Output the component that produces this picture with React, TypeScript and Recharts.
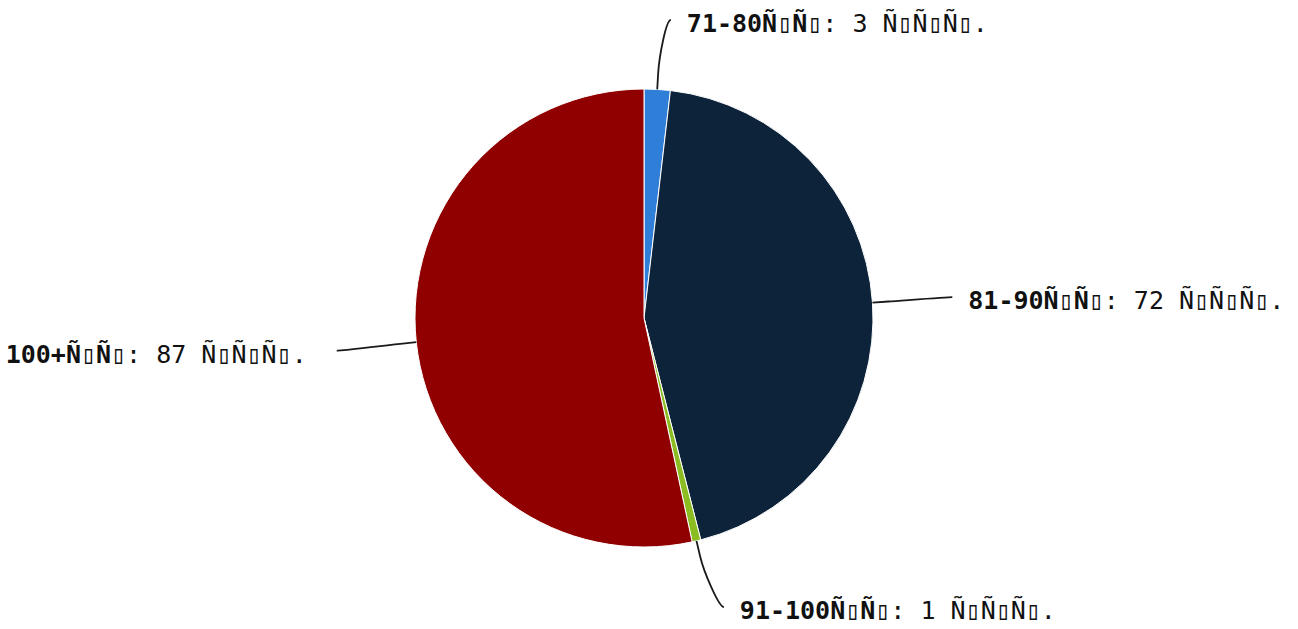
import { PieChart, Pie, Cell } from "recharts";

// mojibake labels kept as they appear in the reference
const categories = ["71-80Ñ▯Ñ▯", "81-90Ñ▯Ñ▯", "91-100Ñ▯Ñ▯", "100+Ñ▯Ñ▯"];
const counts = [3, 72, 1, 87];
const unit = "Ñ▯Ñ▯Ñ▯.";
const colors = ["#2f7ed8", "#0d233a", "#8bbc21", "#910000"];

const data = categories.map((name, i) => ({ name, value: counts[i] }));

const W = 1298;
const H = 629;
const RADIAN = Math.PI / 180;
const LABEL_DIST = 80;

const renderLabel = (props: any) => {
  const { cx, cy, midAngle, outerRadius, index } = props;
  const cos = Math.cos(-midAngle * RADIAN);
  const sin = Math.sin(-midAngle * RADIAN);
  const left = cos < 0;
  const R = outerRadius + LABEL_DIST;
  const natY = cy + R * sin;
  const y = Math.min(Math.max(natY, 20), 607);
  // labels pushed inside the box get nudged sideways a bit
  const x = cx + R * cos + (y !== natY ? (left ? -9 : 9) : 0);
  const tx = cx + outerRadius * cos;
  const ty = cy + outerRadius * sin;
  const bx = cx + (outerRadius + 16) * cos;
  const by = cy + (outerRadius + 16) * sin;
  const path = `M ${x} ${y} C ${x + (left ? 5 : -5)} ${y} ${2 * bx - tx} ${2 * by - ty} ${bx} ${by} L ${tx} ${ty}`;
  const textX = left ? x - 30 : x + 16;
  return (
    <g key={`lbl-${index}`}>
      <path d={path} fill="none" stroke="#1a1a1a" strokeWidth={1.8} />
      <text
        x={textX}
        y={y + 12}
        textAnchor={left ? "end" : "start"}
        fontFamily="'DejaVu Sans Mono', monospace"
        fontSize={25}
        fill="#111"
      >
        <tspan fontWeight="bold">{categories[index]}</tspan>
        <tspan>{`: ${counts[index]} ${unit}`}</tspan>
      </text>
    </g>
  );
};

export default function App() {
  return (
    <div style={{ width: W, height: H }}>
      <style>{`body{margin:0;background:#fff}`}</style>
      <PieChart width={W} height={H} margin={{ top: 0, right: 0, bottom: 0, left: 0 }}>
        <Pie
          data={data}
          dataKey="value"
          nameKey="name"
          cx={644}
          cy={318}
          outerRadius={229}
          startAngle={90}
          endAngle={-270}
          stroke="#fff"
          strokeWidth={1}
          label={renderLabel}
          labelLine={false}
          isAnimationActive={false}
        >
          {data.map((_, i) => (
            <Cell key={i} fill={colors[i]} />
          ))}
        </Pie>
      </PieChart>
    </div>
  );
}
